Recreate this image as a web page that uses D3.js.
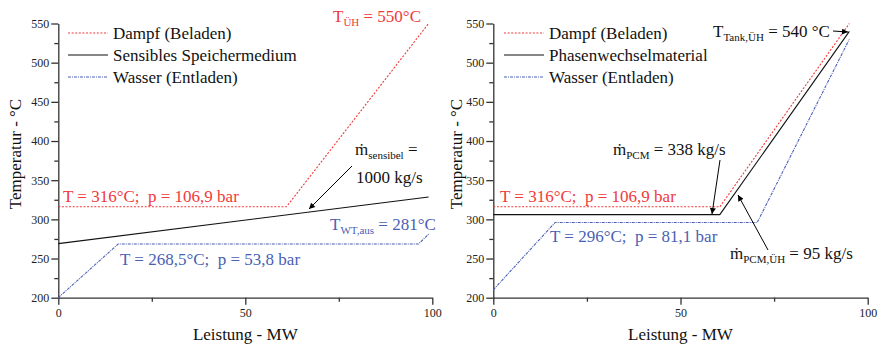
<!DOCTYPE html>
<html><head><meta charset="utf-8">
<script src="https://cdn.jsdelivr.net/npm/d3@7"></script>
<style>
body{margin:0;background:#fff;}
text{font-family:"Liberation Serif","Times New Roman",serif;}
</style></head>
<body><svg id="c" width="881" height="345"></svg>
<script>
// ---------- data ----------
const xTicks = [0, 50, 100];
const xMinorTicks = [25, 75];
const yTicks = [200, 250, 300, 350, 400, 450, 500, 550];
const yMinorTicks = [225, 275, 325, 375, 425, 475, 525];

const seriesNames = ["Dampf (Beladen)", "Sensibles Speichermedium", "Wasser (Entladen)"];
const seriesNamesRight = ["Dampf (Beladen)", "Phasenwechselmaterial", "Wasser (Entladen)"];

// left panel (sensible storage)
const leftDampfP = [0, 61, 99];
const leftDampfT = [316, 316, 550];
const leftSensP = [0, 99];
const leftSensT = [269, 328.5];
const leftWasserP = [0, 16, 96.3, 99];
const leftWasserT = [200, 268.5, 268.5, 281];

// right panel (phase change material)
const rightDampfP = [0, 60.5, 95.1];
const rightDampfT = [316, 316, 550];
const rightPcmP = [0, 60.5, 95.1];
const rightPcmT = [306, 306, 540];
const rightWasserP = [0, 16.5, 70.5, 95.1];
const rightWasserT = [210, 296, 296, 530];

// ---------- drawing ----------
const RED = "#f03a3a", BLUE = "#4a60b4", BLACK = "#111", AX = "#333";
const SP2 = "\u00a0\u00a0";
const svg = d3.select("#c");
const defs = svg.append("defs");
defs.append("marker").attr("id","ah").attr("viewBox","0 0 10 10").attr("refX",10).attr("refY",5)
  .attr("markerWidth",8).attr("markerHeight",6).attr("markerUnits","userSpaceOnUse").attr("orient","auto")
  .append("path").attr("d","M0,0 L10,5 L0,10 Z").attr("fill","#000");

function zip(a,b){return a.map((v,i)=>[v,b[i]]);}

function panel(opt){
  const x = d3.scaleLinear().domain([0,100]).range(opt.xr);
  const y = d3.scaleLinear().domain([200,550]).range([297.7, 23.5]);
  const g = svg.append("g");
  g.append("g").attr("transform",`translate(0,${y(200)})`)
    .call(d3.axisBottom(x).tickValues(xTicks).tickSize(7).tickSizeOuter(0).tickPadding(4));
  g.append("g").attr("transform",`translate(0,${y(200)})`)
    .call(d3.axisBottom(x).tickValues(xMinorTicks).tickSize(4).tickFormat("").tickSizeOuter(0))
    .select(".domain").remove();
  g.append("g").attr("transform",`translate(${x(0)},0)`)
    .call(d3.axisLeft(y).tickValues(yTicks).tickSize(7).tickSizeOuter(0).tickPadding(2));
  g.append("g").attr("transform",`translate(${x(0)},0)`)
    .call(d3.axisLeft(y).tickValues(yMinorTicks).tickSize(4).tickFormat("").tickSizeOuter(0))
    .select(".domain").remove();
  g.selectAll(".domain, .tick line").attr("stroke",AX).attr("stroke-width",1.3);
  g.selectAll(".tick text").attr("font-family","Liberation Serif").attr("font-size",12).attr("fill","#222");
  g.append("text").attr("x",(x(0)+x(100))/2).attr("y",340).attr("text-anchor","middle")
    .attr("font-size",17).attr("fill","#111").text("Leistung - MW");
  g.append("text").attr("transform",`translate(${opt.ytx},154) rotate(-90)`).attr("text-anchor","middle")
    .attr("font-size",17).attr("fill","#111").text("Temperatur - °C");
  const line = d3.line().x(d=>x(d[0])).y(d=>y(d[1]));
  const styles = [
    {c:RED, w:1.1, da:"2,1.6"},
    {c:BLACK, w:1.1, da:null},
    {c:BLUE, w:1.1, da:"3,1,1,1"}
  ];
  opt.series.forEach((s,i)=>{
    g.append("path").datum(zip(s[0],s[1])).attr("d",line).attr("fill","none")
      .attr("stroke",styles[i].c).attr("stroke-width",styles[i].w)
      .attr("stroke-dasharray",styles[i].da);
  });
  opt.names.forEach((n,i)=>{
    const cy = 33 + i*22;
    g.append("line").attr("x1",opt.lx).attr("x2",opt.lx+40).attr("y1",cy).attr("y2",cy)
      .attr("stroke",styles[i].c).attr("stroke-width",styles[i].w).attr("stroke-dasharray",styles[i].da);
    g.append("text").attr("x",opt.lx+45).attr("y",cy+6).attr("font-size",17).attr("fill","#111").text(n);
  });
  return {g,x,y};
}

function label(parts, x, y, color){
  const t = svg.append("text").attr("x",x).attr("y",y).attr("font-size",17).attr("fill",color);
  parts.forEach(p=>{
    if (typeof p === "string") t.append("tspan").text(p);
    else t.append("tspan").attr("font-size",11).attr("dy",p.dy).text(p.s);
  });
  return t;
}
function sub(main, subs, rest, x, y, color){
  const t = svg.append("text").attr("x",x).attr("y",y).attr("font-size",17).attr("fill",color);
  t.append("tspan").text(main);
  t.append("tspan").attr("font-size",11).attr("dy",4).text(subs);
  t.append("tspan").attr("dy",-4).text(rest);
}
function arrow(x1,y1,x2,y2){
  svg.append("line").attr("x1",x1).attr("y1",y1).attr("x2",x2).attr("y2",y2)
    .attr("stroke","#000").attr("stroke-width",1).attr("marker-end","url(#ah)");
}

panel({xr:[58.3,432.3], ytx:21, lx:68, names:seriesNames,
  series:[[leftDampfP,leftDampfT],[leftSensP,leftSensT],[leftWasserP,leftWasserT]]});
panel({xr:[493.3,867.7], ytx:462, lx:504, names:seriesNamesRight,
  series:[[rightDampfP,rightDampfT],[rightPcmP,rightPcmT],[rightWasserP,rightWasserT]]});

// left annotations
sub("T","ÜH"," = 550°C", 333, 22, RED);
label(["T = 316°C;"+SP2+"p = 106,9 bar"], 63, 202, RED);
label(["T = 268,5°C;"+SP2+"p = 53,8 bar"], 120, 265, BLUE);
sub("T","WT,aus"," = 281°C", 330, 230, BLUE);
sub("ṁ","sensibel"," =", 355, 155, BLACK);
label(["1000 kg/s"], 356, 183, BLACK);
arrow(352,166,309,209);

// right annotations
sub("T","Tank,ÜH"," = 540 °C", 713, 37, BLACK);
arrow(833,31,848,32);
sub("ṁ","PCM"," = 338 kg/s", 613, 155, BLACK);
arrow(720,160,712,214);
label(["T = 316°C;"+SP2+"p = 106,9 bar"], 500, 202, RED);
label(["T = 296°C;"+SP2+"p = 81,1 bar"], 550, 242, BLUE);
sub("ṁ","PCM,ÜH"," = 95 kg/s", 730, 259, BLACK);
arrow(768,250,738,195);
</script></body></html>
